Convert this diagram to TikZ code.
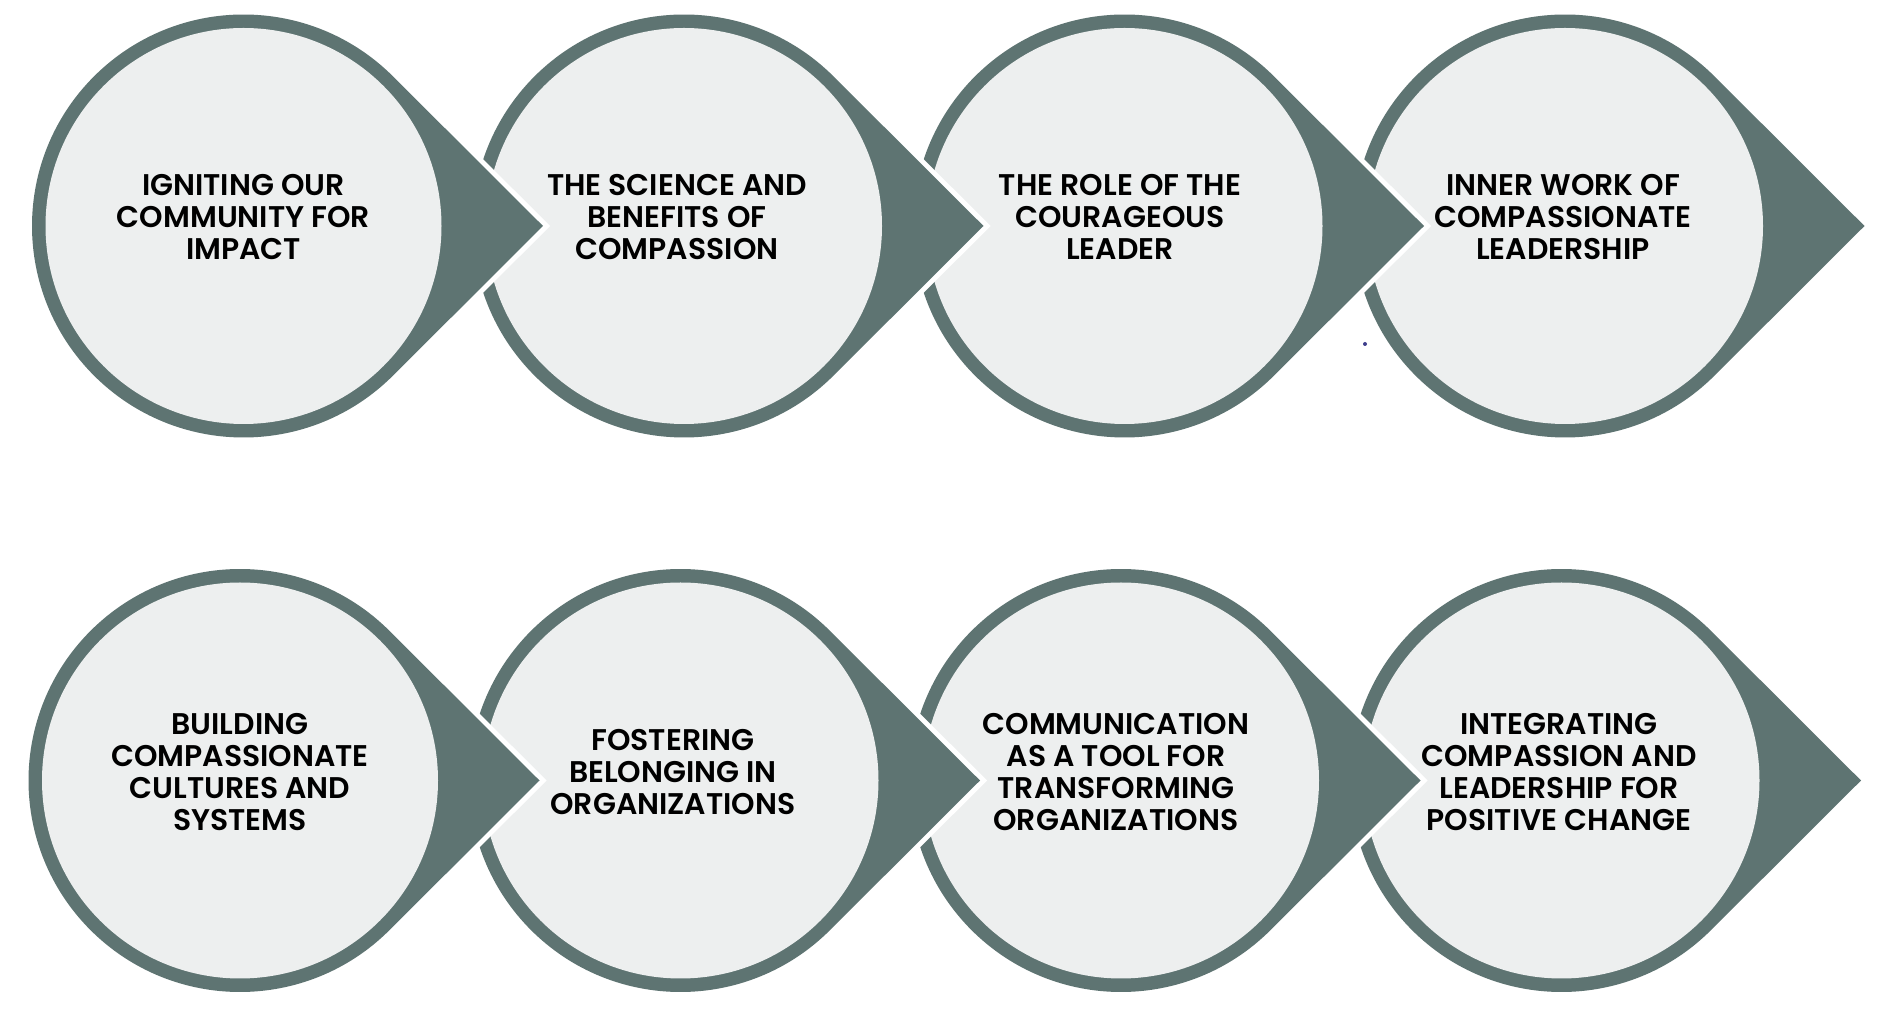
\documentclass[tikz,border=0pt]{standalone}
\usepackage{fontspec}
\setmainfont{Poppins}[BoldFont={Poppins SemiBold}]
\begin{document}
\begin{tikzpicture}[x=0.01cm, y=-0.01cm]
% Palette and geometry of one step shape (units are pixels of the sheet)
\providecommand{\stepRingColor}{ringcol}
\providecommand{\stepFaceColor}{facecol}
\definecolor{ringcol}{RGB}{94,116,114}
\definecolor{facecol}{RGB}{237,239,239}
\definecolor{dotcol}{RGB}{62,62,140}
\def\outerR{211.5}
\def\innerR{198}
\def\tipD{299.5}
\def\tipA{45.08}
\tikzset{
  steptext/.style={align=center, font=\fontsize{8.5}{9.1}\selectfont\bfseries, text=black, inner sep=0pt},
  stepdrop/.style={fill=\stepRingColor, preaction={draw=white, line width=0.1cm, line join=miter}},
}
\newcommand{\stepshape}[2]{%
  \path[stepdrop, shift={(#1,#2)}] (\tipA:\outerR) arc[start angle=\tipA, end angle=360-\tipA, radius=\outerR] -- (\tipD,0) -- cycle;
  \fill[\stepFaceColor] (#1,#2) circle[radius=\innerR];
}
% Sheet
\fill[white] (0,0) rectangle (1878,1010);
\useasboundingbox (0,0) rectangle (1878,1010);
% Top row, drawn right to left so each tip lies on the next step
\stepshape{1565}{226}
\stepshape{1124.5}{226}
\stepshape{684}{226}
\stepshape{243.5}{226}
% Bottom row
\stepshape{1561.5}{780.5}
\stepshape{1121}{780.5}
\stepshape{680.5}{780.5}
\stepshape{240}{780.5}
% Labels
\node[steptext] (igniting) at (243.5,217) {IGNITING OUR\\COMMUNITY FOR\\IMPACT};
\node[steptext] (science) at (677,217) {THE SCIENCE AND\\BENEFITS OF\\COMPASSION};
\node[steptext] (courage) at (1120,217) {THE ROLE OF THE\\COURAGEOUS\\LEADER};
\node[steptext] (inner) at (1563,217) {INNER WORK OF\\COMPASSIONATE\\LEADERSHIP};
\node[steptext] (cultures) at (240,772) {BUILDING\\COMPASSIONATE\\CULTURES AND\\SYSTEMS};
\node[steptext] (belonging) at (673,772) {FOSTERING\\BELONGING IN\\ORGANIZATIONS};
\node[steptext] (communication) at (1116,772) {COMMUNICATION\\AS A TOOL FOR\\TRANSFORMING\\ORGANIZATIONS};
\node[steptext] (integrating) at (1559,772) {INTEGRATING\\COMPASSION AND\\LEADERSHIP FOR\\POSITIVE CHANGE};
% Stray mark
\fill[dotcol] (1365,344) circle[radius=2];
\end{tikzpicture}
\end{document}
